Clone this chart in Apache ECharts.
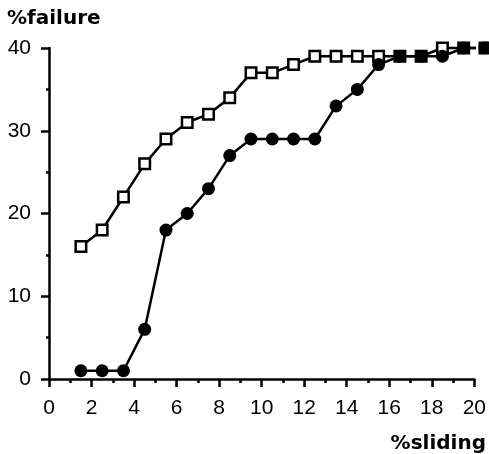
<!DOCTYPE html>
<html>
<head>
<meta charset="utf-8">
<script src="https://cdn.jsdelivr.net/npm/echarts@6/dist/echarts.min.js"></script>
<style>
  html, body { margin: 0; padding: 0; background: #fff; }
  #chart { width: 489px; height: 454px; }
</style>
</head>
<body>
<div id="chart"></div>
<script>
// sliding % (x) where each point was measured
const sliding = [1.5, 2.5, 3.5, 4.5, 5.5, 6.5, 7.5, 8.5, 9.5, 10.5, 11.5, 12.5, 13.5, 14.5, 15.5, 16.5, 17.5, 18.5, 19.5, 20.5]
// open squares
const failureOpen = [16, 18, 22, 26, 29, 31, 32, 34, 37, 37, 38, 39, 39, 39, 39, 39, 39, 40, 40, 40]
// filled circles
const failureFilled = [1, 1, 1, 6, 18, 20, 23, 27, 29, 29, 29, 29, 33, 35, 38, 39, 39, 39, 40, 40]

const xTicks = [0, 20, 2]
const yTicks = [0, 40, 10]

const chart = echarts.init(document.getElementById('chart'))

const pairs = (xs, ys) => xs.map((x, i) => [x, ys[i]])
const labelFont = '"Liberation Sans", Arial, Helvetica, sans-serif'

const option = {
  animation: false,
  grid: { left: 49, right: 12, top: 48, bottom: 75 },
  xAxis: {
    type: 'value',
    min: xTicks[0],
    max: xTicks[1],
    interval: xTicks[2],
    splitLine: { show: false },
    axisLine: { lineStyle: { color: '#000', width: 2.5 } },
    axisTick: { show: true, length: 8, lineStyle: { color: '#000', width: 2.5 } },
    minorTick: { show: true, splitNumber: 2, length: 4, lineStyle: { color: '#000', width: 2.5 } },
    axisLabel: { color: '#000', fontFamily: labelFont, fontSize: 21, margin: 19 }
  },
  yAxis: {
    type: 'value',
    min: yTicks[0],
    max: yTicks[1],
    interval: yTicks[2],
    splitLine: { show: false },
    axisLine: { show: true, lineStyle: { color: '#000', width: 2.5 } },
    axisTick: { show: true, length: 8, lineStyle: { color: '#000', width: 2.5 } },
    minorTick: { show: true, splitNumber: 2, length: 3, lineStyle: { color: '#000', width: 2.5 } },
    axisLabel: { color: '#000', fontFamily: labelFont, fontSize: 21, margin: 18 }
  },
  graphic: [
    {
      type: 'text', left: 7, top: 9,
      style: { text: '%failure', fill: '#000', font: 'bold 20px "DejaVu Sans"' }
    },
    {
      type: 'text', right: 3, top: 434,
      style: { text: '%sliding', fill: '#000', font: 'bold 20px "DejaVu Sans"' }
    }
  ],
  series: [
    {
      type: 'line',
      data: pairs(sliding, failureOpen),
      clip: false,
      symbol: 'rect',
      symbolSize: 10.5,
      lineStyle: { color: '#000', width: 2.5 },
      itemStyle: { color: '#fff', borderColor: '#000', borderWidth: 2.5 },
      z: 2
    },
    {
      type: 'line',
      data: pairs(sliding, failureFilled),
      clip: false,
      symbol: 'circle',
      symbolSize: 13,
      lineStyle: { color: '#000', width: 2.5 },
      itemStyle: { color: '#000', borderColor: '#000', borderWidth: 0 },
      z: 3
    }
  ]
}

chart.setOption(option)
</script>
</body>
</html>
